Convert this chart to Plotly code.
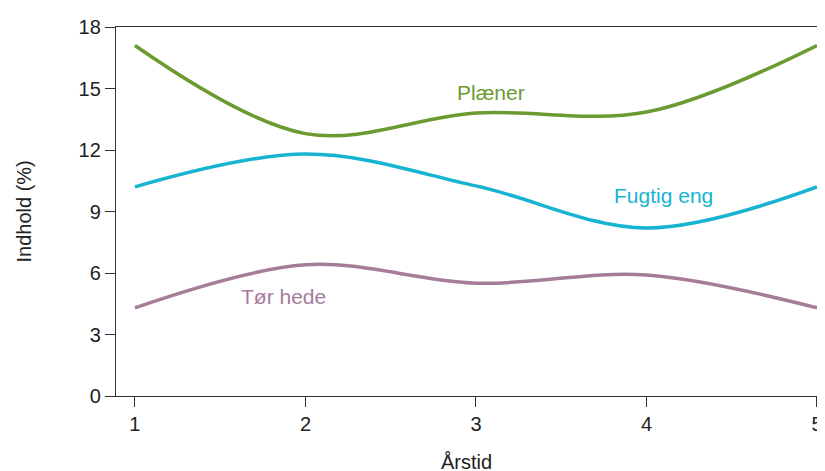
import plotly.graph_objects as go

seasons = [1, 2, 3, 4, 5]
plaener = [17.1, 12.8, 13.8, 13.85, 17.1]
fugtig_eng = [10.2, 11.8, 10.25, 8.2, 10.2]
toer_hede = [4.3, 6.4, 5.5, 5.9, 4.3]

names = ["Plæner", "Fugtig eng", "Tør hede"]
colors = ["#6b9a30", "#17b3d3", "#a57d99"]
label_x = [3.09, 4.1, 1.87]
label_y = [14.8, 9.78, 4.87]

FONT = "Liberation Sans"

fig = go.Figure()
for vals, name, col in zip([plaener, fugtig_eng, toer_hede], names, colors):
    fig.add_trace(go.Scatter(x=seasons, y=vals, mode="lines", name=name,
                             line=dict(color=col, width=3.5, shape="spline", smoothing=1.0)))

for name, col, lx, ly in zip(names, colors, label_x, label_y):
    fig.add_annotation(x=lx, y=ly, text=name, showarrow=False,
                       font=dict(color=col, size=21, family=FONT))

# axis titles
fig.add_annotation(xref="paper", yref="paper", x=0.495, y=0, yanchor="middle",
                   yshift=-66, text="Årstid", showarrow=False,
                   font=dict(size=20, family=FONT, color="#222222"))
fig.add_annotation(xref="paper", yref="paper", x=0, y=0.5, xanchor="center",
                   xshift=-93, textangle=-90, text="Indhold (%)", showarrow=False,
                   font=dict(size=20, family=FONT, color="#222222"))

# the page body adds an 8px offset, so the figure is 8px smaller
fig.update_layout(
    width=817, height=463,
    margin=dict(l=108, r=0, t=19, b=75),
    plot_bgcolor="white", paper_bgcolor="white",
    showlegend=False,
    font=dict(family=FONT, size=20, color="#222222"),
    xaxis=dict(range=[0.889, 5.047], tickvals=seasons, ticks="outside", ticklen=10,
               tickcolor="#333333", showline=True, linecolor="#333333", linewidth=1.3,
               mirror=True, showgrid=False, zeroline=False),
    yaxis=dict(range=[0, 18], tickvals=[0, 3, 6, 9, 12, 15, 18], ticks="outside", ticklen=10,
               tickcolor="#333333", showline=True, linecolor="#333333", linewidth=1.3,
               showgrid=False, zeroline=False),
)

fig.write_html("out.html")
